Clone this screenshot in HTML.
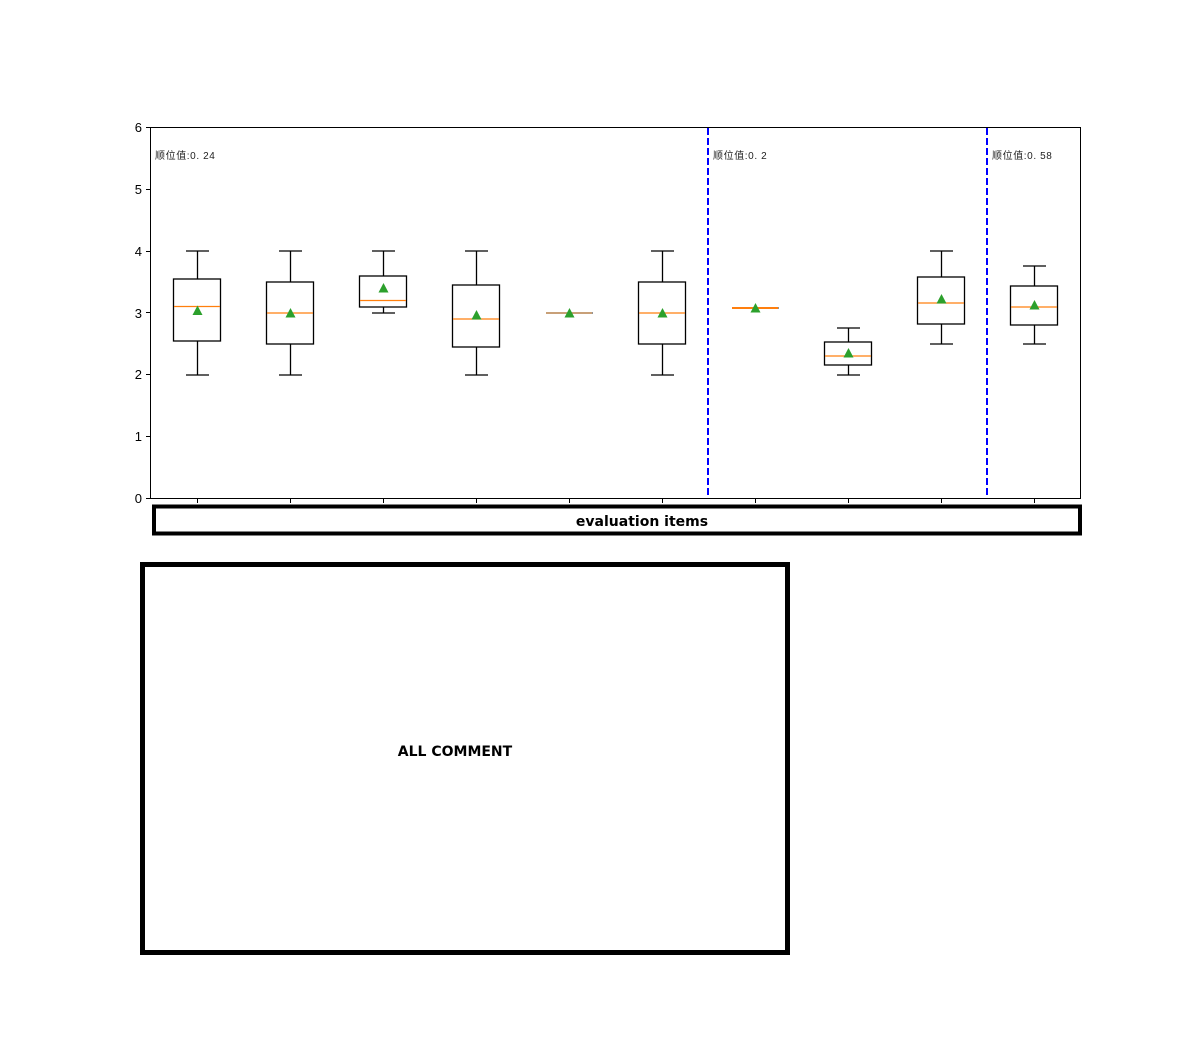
<!DOCTYPE html>
<html><head><meta charset="utf-8"><style>
html,body{margin:0;padding:0;background:#fff;width:1200px;height:1060px;overflow:hidden}
svg{display:block}
</style></head><body>
<svg width="1200" height="1060" viewBox="0 0 1200 1060" xmlns="http://www.w3.org/2000/svg">
<g font-family="'Liberation Sans','DejaVu Sans',sans-serif" font-size="12" fill="#000">
<rect x="150.5" y="127.5" width="930" height="371" fill="none" stroke="#000" stroke-width="1"/>
<g stroke="#000" stroke-width="1">
<line x1="146" y1="498.5" x2="150" y2="498.5"/>
<line x1="146" y1="436.5" x2="150" y2="436.5"/>
<line x1="146" y1="374.5" x2="150" y2="374.5"/>
<line x1="146" y1="312.5" x2="150" y2="312.5"/>
<line x1="146" y1="251.5" x2="150" y2="251.5"/>
<line x1="146" y1="189.5" x2="150" y2="189.5"/>
<line x1="146" y1="127.5" x2="150" y2="127.5"/>
</g>
<g text-anchor="end" font-size="13">
<text x="142" y="503">0</text>
<text x="142" y="441">1</text>
<text x="142" y="379">2</text>
<text x="142" y="318">3</text>
<text x="142" y="256">4</text>
<text x="142" y="194">5</text>
<text x="142" y="132">6</text>
</g>
<g stroke="#000" stroke-width="1">
<line x1="197.5" y1="498" x2="197.5" y2="503"/>
<line x1="290.5" y1="498" x2="290.5" y2="503"/>
<line x1="383.5" y1="498" x2="383.5" y2="503"/>
<line x1="476.5" y1="498" x2="476.5" y2="503"/>
<line x1="569.5" y1="498" x2="569.5" y2="503"/>
<line x1="662.5" y1="498" x2="662.5" y2="503"/>
<line x1="755.5" y1="498" x2="755.5" y2="503"/>
<line x1="848.5" y1="498" x2="848.5" y2="503"/>
<line x1="941.5" y1="498" x2="941.5" y2="503"/>
<line x1="1034.5" y1="498" x2="1034.5" y2="503"/>
</g>
<line x1="708" y1="128" x2="708" y2="498" stroke="#0000ff" stroke-width="2" stroke-dasharray="7,3"/>
<line x1="987" y1="128" x2="987" y2="498" stroke="#0000ff" stroke-width="2" stroke-dasharray="7,3"/>
<g font-family="'Liberation Sans','Noto Sans CJK SC',sans-serif" font-size="10" fill="#222" letter-spacing="0.6">
<text x="155" y="159">顺位值:0. 24</text>
<text x="713" y="159">顺位值:0. 2</text>
<text x="992" y="159">顺位值:0. 58</text>
</g>
<g fill="none" stroke="#000" stroke-width="1.3">
<line x1="197.5" y1="251" x2="197.5" y2="279"/><line x1="197.5" y1="341" x2="197.5" y2="375"/>
<line x1="186" y1="251" x2="209" y2="251"/><line x1="186" y1="375" x2="209" y2="375"/>
<rect x="173.5" y="279" width="47" height="62"/>
<line x1="290.5" y1="251" x2="290.5" y2="282"/><line x1="290.5" y1="344" x2="290.5" y2="375"/>
<line x1="279" y1="251" x2="302" y2="251"/><line x1="279" y1="375" x2="302" y2="375"/>
<rect x="266.5" y="282" width="47" height="62"/>
<line x1="383.5" y1="251" x2="383.5" y2="276"/><line x1="383.5" y1="307" x2="383.5" y2="313"/>
<line x1="372" y1="251" x2="395" y2="251"/><line x1="372" y1="313" x2="395" y2="313"/>
<rect x="359.5" y="276" width="47" height="31"/>
<line x1="476.5" y1="251" x2="476.5" y2="285"/><line x1="476.5" y1="347" x2="476.5" y2="375"/>
<line x1="465" y1="251" x2="488" y2="251"/><line x1="465" y1="375" x2="488" y2="375"/>
<rect x="452.5" y="285" width="47" height="62"/>
<line x1="546" y1="313" x2="593" y2="313" stroke="#555"/>
<line x1="662.5" y1="251" x2="662.5" y2="282"/><line x1="662.5" y1="344" x2="662.5" y2="375"/>
<line x1="651" y1="251" x2="674" y2="251"/><line x1="651" y1="375" x2="674" y2="375"/>
<rect x="638.5" y="282" width="47" height="62"/>
<line x1="732" y1="308" x2="779" y2="308" stroke="#555"/>
<line x1="848.5" y1="328" x2="848.5" y2="342"/><line x1="848.5" y1="365" x2="848.5" y2="375"/>
<line x1="837" y1="328" x2="860" y2="328"/><line x1="837" y1="375" x2="860" y2="375"/>
<rect x="824.5" y="342" width="47" height="23"/>
<line x1="941.5" y1="251" x2="941.5" y2="277"/><line x1="941.5" y1="324" x2="941.5" y2="344"/>
<line x1="930" y1="251" x2="953" y2="251"/><line x1="930" y1="344" x2="953" y2="344"/>
<rect x="917.5" y="277" width="47" height="47"/>
<line x1="1034.5" y1="266" x2="1034.5" y2="286"/><line x1="1034.5" y1="325" x2="1034.5" y2="344"/>
<line x1="1023" y1="266" x2="1046" y2="266"/><line x1="1023" y1="344" x2="1046" y2="344"/>
<rect x="1010.5" y="286" width="47" height="39"/>
</g>
<g stroke="#ff7f0e" stroke-width="1.3">
<line x1="174" y1="306.5" x2="220" y2="306.5"/>
<line x1="267" y1="313" x2="313" y2="313"/>
<line x1="360" y1="300.5" x2="406" y2="300.5"/>
<line x1="453" y1="319" x2="499" y2="319"/>
<line x1="546" y1="313" x2="592" y2="313" stroke="#c08040"/>
<line x1="639" y1="313" x2="685" y2="313"/>
<line x1="732" y1="308" x2="778" y2="308" stroke-width="2"/>
<line x1="825" y1="356" x2="871" y2="356"/>
<line x1="918" y1="303" x2="964" y2="303"/>
<line x1="1011" y1="307" x2="1057" y2="307"/>
</g>
<g fill="#2ca02c">
<polygon points="197.5,305.5 192.5,315 202.5,315"/>
<polygon points="290.5,308 285.5,317.5 295.5,317.5"/>
<polygon points="383.5,283 378.5,292.5 388.5,292.5"/>
<polygon points="476.5,310 471.5,319.5 481.5,319.5"/>
<polygon points="569.5,308 564.5,317.5 574.5,317.5"/>
<polygon points="662.5,308 657.5,317.5 667.5,317.5"/>
<polygon points="755.5,303 750.5,312.5 760.5,312.5"/>
<polygon points="848.5,348 843.5,357.5 853.5,357.5"/>
<polygon points="941.5,294 936.5,303.5 946.5,303.5"/>
<polygon points="1034.5,300 1029.5,309.5 1039.5,309.5"/>
</g>
<rect x="154" y="506.5" width="926" height="27" fill="none" stroke="#000" stroke-width="4"/>
<text x="642" y="526" text-anchor="middle" font-size="14" font-weight="bold" font-family="'DejaVu Sans','Liberation Sans',sans-serif">evaluation items</text>
<rect x="142.5" y="564.5" width="645" height="388" fill="none" stroke="#000" stroke-width="5"/>
<text x="455" y="756" text-anchor="middle" font-size="14" font-weight="bold" font-family="'DejaVu Sans','Liberation Sans',sans-serif">ALL  COMMENT</text>
</g>
</svg>
</body></html>
